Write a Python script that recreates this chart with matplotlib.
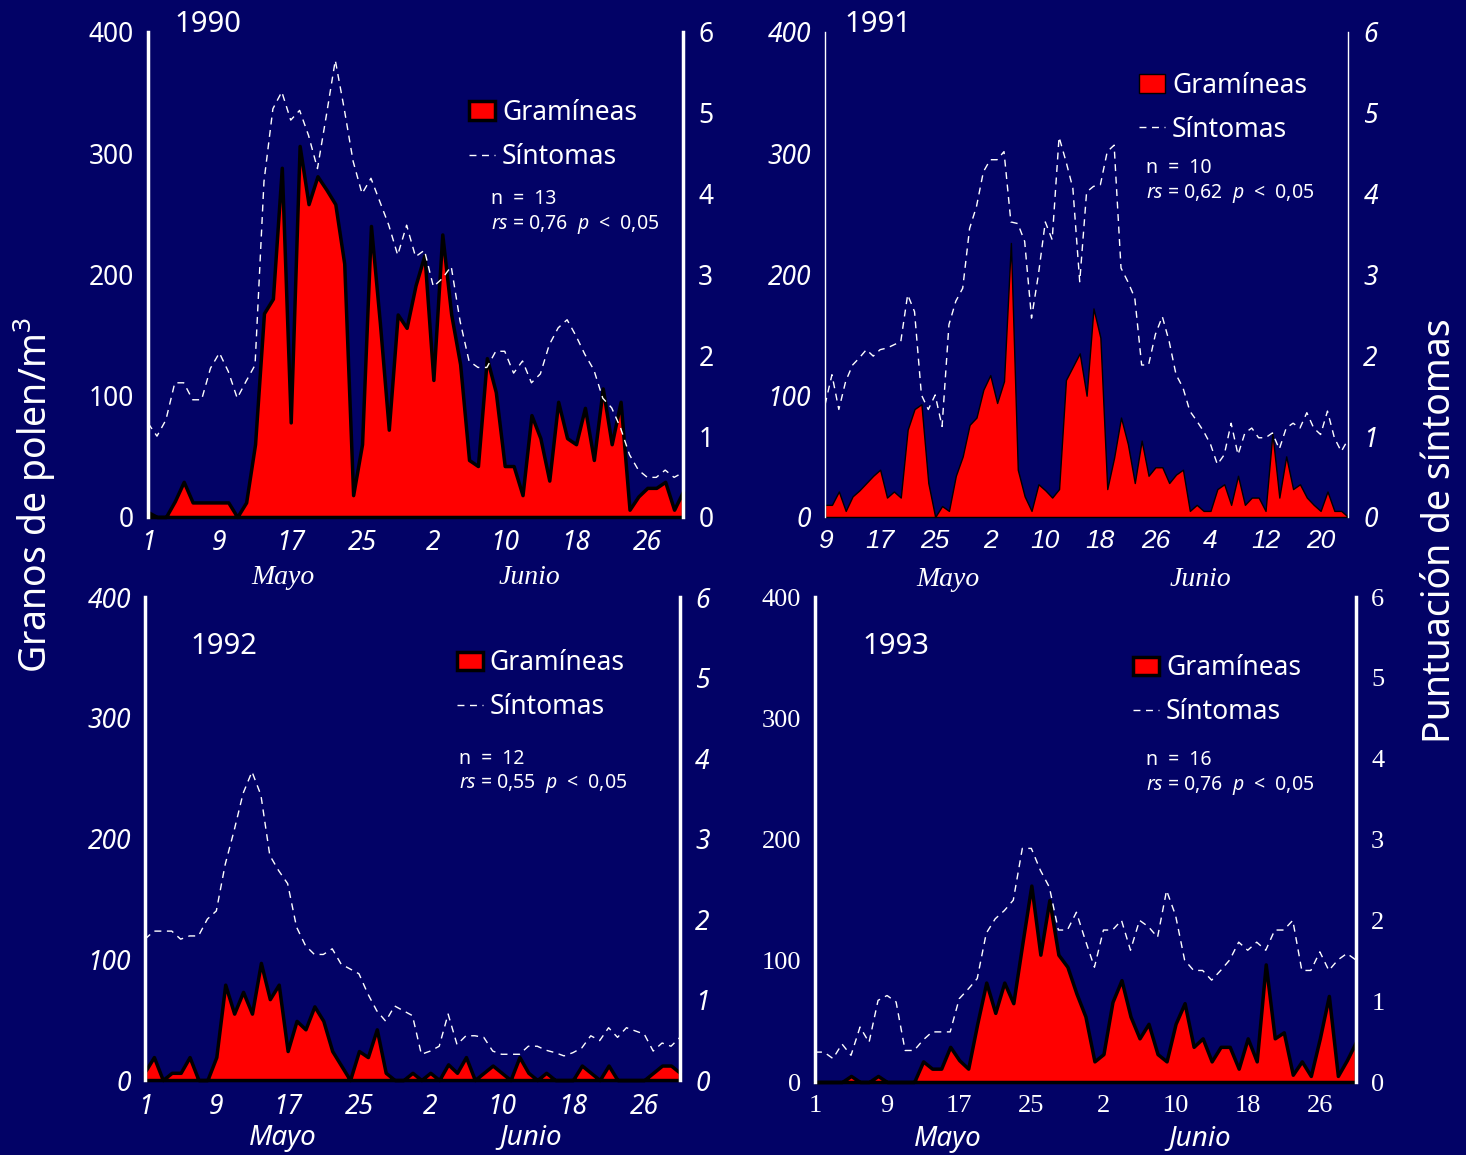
import matplotlib
matplotlib.use("Agg")
import matplotlib.pyplot as plt
import numpy as np

# --- data (granos de polen/m3 and puntuacion de sintomas) ---

# 1990: 1 mayo - 30 junio
pollen_1990 = [4, 0, 0, 13, 29, 12, 12, 12, 12, 12, 0, 12, 60, 168, 180, 288, 78, 306, 258, 281,
               270, 258, 209, 18, 60, 240, 160, 72, 167, 156, 191, 216, 113, 233, 167, 126, 47, 42, 131, 103,
               42, 42, 18, 84, 65, 30, 95, 65, 60, 90, 47, 106, 60, 95, 6, 17, 24, 24, 29, 6, 21]
sympt_1990 = [1.16, 1.00, 1.20, 1.66, 1.66, 1.45, 1.45, 1.84, 2.03, 1.80, 1.47, 1.68, 1.88, 4.15, 5.05, 5.26,
              4.91, 5.03, 4.72, 4.31, 4.97, 5.65, 5.05, 4.40, 4.00, 4.19, 3.90, 3.61, 3.24, 3.61, 3.22, 3.30,
              2.85, 2.95, 3.10, 2.42, 1.93, 1.85, 1.85, 2.05, 2.05, 1.78, 1.93, 1.66, 1.77, 2.13, 2.34, 2.44,
              2.24, 2.01, 1.82, 1.47, 1.35, 1.10, 0.77, 0.58, 0.49, 0.49, 0.58, 0.49, 0.55]
xlabels_1990 = ['1', '9', '17', '25', '2', '10', '18', '26']

# 1991: 9 mayo - 24 julio
pollen_1991 = [10, 10, 21, 5, 17, 22, 28, 34, 39, 16, 21, 16, 72, 89, 93, 28, 0, 9, 5, 34,
               50, 76, 82, 105, 117, 94, 112, 226, 39, 17, 5, 27, 22, 16, 23, 113, 124, 135, 100, 172,
               148, 23, 49, 82, 60, 28, 63, 34, 41, 41, 28, 35, 39, 5, 10, 5, 5, 23, 27, 10,
               34, 10, 16, 16, 5, 69, 16, 50, 23, 27, 16, 10, 5, 21, 5, 5, 0]
sympt_1991 = [1.39, 1.76, 1.33, 1.68, 1.88, 1.97, 2.07, 1.99, 2.07, 2.09, 2.13, 2.17, 2.75, 2.54, 1.51, 1.33,
              1.51, 1.12, 2.38, 2.67, 2.83, 3.57, 3.84, 4.27, 4.42, 4.42, 4.52, 3.65, 3.63, 3.41, 2.46, 3.00,
              3.65, 3.43, 4.70, 4.40, 4.07, 2.91, 4.02, 4.09, 4.11, 4.52, 4.60, 3.08, 2.91, 2.71, 1.88, 1.88,
              2.26, 2.48, 2.17, 1.76, 1.60, 1.31, 1.19, 1.06, 0.90, 0.65, 0.77, 1.16, 0.77, 1.04, 1.10, 0.98,
              0.98, 1.04, 0.84, 1.10, 1.16, 1.10, 1.29, 1.10, 1.02, 1.31, 0.98, 0.81, 0.96]
xlabels_1991 = ['9', '17', '25', '2', '10', '18', '26', '4', '12', '20']

# 1992: 1 mayo - 30 junio
pollen_1992 = [7, 19, 0, 6, 6, 19, 0, 0, 19, 79, 55, 73, 55, 97, 67, 79, 24, 49, 42, 61,
               49, 24, 12, 0, 24, 19, 42, 6, 0, 0, 6, 0, 6, 0, 13, 6, 19, 0, 6, 12,
               6, 0, 19, 6, 0, 6, 0, 0, 0, 12, 6, 0, 12, 0, 0, 0, 0, 6, 12, 12, 6]
sympt_1992 = [1.75, 1.85, 1.85, 1.85, 1.75, 1.79, 1.79, 2.00, 2.10, 2.68, 3.10, 3.56, 3.83, 3.54, 2.79, 2.60,
              2.44, 1.90, 1.67, 1.56, 1.56, 1.63, 1.44, 1.38, 1.32, 1.07, 0.86, 0.73, 0.92, 0.86, 0.80, 0.32,
              0.36, 0.42, 0.82, 0.44, 0.55, 0.55, 0.53, 0.36, 0.32, 0.32, 0.32, 0.42, 0.42, 0.37, 0.34, 0.30,
              0.34, 0.40, 0.55, 0.49, 0.65, 0.53, 0.65, 0.61, 0.57, 0.36, 0.46, 0.42, 0.53]
xlabels_1992 = ['1', '9', '17', '25', '2', '10', '18', '26']

# 1993: 1 mayo - 30 junio
pollen_1993 = [0, 0, 0, 0, 5, 0, 0, 5, 0, 0, 0, 0, 17, 11, 11, 29, 18, 11, 48, 82,
               57, 82, 65, 114, 162, 105, 150, 105, 95, 73, 54, 17, 23, 66, 84, 54, 36, 48, 23, 17,
               48, 65, 29, 36, 17, 29, 29, 11, 36, 17, 97, 36, 41, 6, 17, 5, 36, 71, 5, 18, 33]
sympt_1993 = [0.37, 0.37, 0.29, 0.47, 0.33, 0.68, 0.49, 1.01, 1.07, 0.99, 0.39, 0.39, 0.52, 0.62, 0.62, 0.62,
              1.03, 1.15, 1.28, 1.84, 2.02, 2.12, 2.25, 2.89, 2.89, 2.62, 2.41, 1.88, 1.88, 2.10, 1.75, 1.42,
              1.88, 1.88, 2.00, 1.63, 2.00, 1.92, 1.79, 2.37, 2.06, 1.51, 1.38, 1.38, 1.26, 1.38, 1.51, 1.73,
              1.63, 1.73, 1.63, 1.88, 1.88, 2.00, 1.38, 1.38, 1.61, 1.38, 1.51, 1.59, 1.51]
xlabels_1993 = ['1', '9', '17', '25', '2', '10', '18', '26']

stats_n = ['13', '10', '12', '16']
stats_rs = ['0,76', '0,62', '0,55', '0,76']

BG = '#020266'
SANS = 'Noto Sans'
SERIF = 'Liberation Serif'

plt.rcParams['font.family'] = [SANS, 'DejaVu Sans']
plt.rcParams['mathtext.fontset'] = 'custom'
plt.rcParams['mathtext.it'] = SANS + ':italic'
plt.rcParams['mathtext.rm'] = SANS

fig = plt.figure(figsize=(14.66, 11.55), dpi=100, facecolor=BG)


def draw_panel(rect, pollen, sympt, xlabels, year, n, rs, edge_lw, spine_lw,
               yl_font, x_font, m_font, yr_font,
               year_pos, leg_pos, stat_pos, month_x, month_y):
    ax = fig.add_axes(rect)
    ax.set_facecolor(BG)
    x = np.arange(len(pollen))

    # gramineas (left scale)
    fill = ax.fill_between(x, pollen, 0, facecolor='#ff0000', edgecolor='black',
                           linewidth=edge_lw, clip_on=False, zorder=2)
    ax.set_xlim(0, len(pollen) - 1)
    ax.set_ylim(0, 400)
    ax.set_yticks([0, 100, 200, 300, 400])
    ax.set_yticklabels(['0', '100', '200', '300', '400'], color='white', fontsize=19, **yl_font)
    ax.set_xticks(np.arange(0, len(pollen), 8))
    ax.set_xticklabels(xlabels, color='white', fontsize=19, **x_font)
    ax.tick_params(axis='both', length=0)
    ax.tick_params(axis='y', pad=10)
    ax.tick_params(axis='x', pad=9)

    # sintomas (right scale)
    ax2 = ax.twinx()
    line, = ax2.plot(x, sympt, color='white', linewidth=1, dashes=(5, 4), zorder=3)
    ax2.set_ylim(0, 6)
    ax2.set_yticks(range(7))
    ax2.set_yticklabels([str(v) for v in range(7)], color='white', fontsize=19, **yr_font)
    ax2.tick_params(axis='y', length=0, pad=11)

    for a in (ax, ax2):
        for s in a.spines.values():
            s.set_visible(False)
    ax.spines['left'].set_visible(True)
    ax.spines['left'].set_color('white')
    ax.spines['left'].set_linewidth(spine_lw)
    ax2.spines['right'].set_visible(True)
    ax2.spines['right'].set_color('white')
    ax2.spines['right'].set_linewidth(spine_lw)

    # month names under the day labels
    tr = ax.get_xaxis_transform()
    ax.text(month_x[0], month_y, 'Mayo', transform=tr, ha='center', va='center',
            color='white', fontsize=20, **m_font)
    ax.text(month_x[1], month_y, 'Junio', transform=tr, ha='center', va='center',
            color='white', fontsize=20, **m_font)

    ax2.text(year_pos[0], year_pos[1], year, transform=ax.transAxes, ha='center', va='center',
             color='white', fontsize=21)

    ax2.legend([fill, line], ['Gramíneas', 'Síntomas'], loc='upper left',
               bbox_to_anchor=leg_pos, frameon=False, fontsize=19, labelcolor='white',
               handlelength=1.0, handletextpad=0.25, labelspacing=0.6,
               borderpad=0, borderaxespad=0)

    ax2.text(stat_pos[0], stat_pos[1], 'n  =  ' + n, transform=ax.transAxes,
             ha='left', va='center', color='white', fontsize=14)
    ax2.text(stat_pos[0], stat_pos[1] - 0.052,
             r'$\mathit{rs}$ = ' + rs + r'  $\mathit{p}$  <  0,05',
             transform=ax.transAxes, ha='left', va='center', color='white', fontsize=14)
    return ax


upright = {'family': SANS}
italic = {'family': SANS, 'style': 'italic'}
arial_it = {'family': 'Liberation Sans', 'style': 'italic'}
serif_it = {'family': SERIF, 'style': 'italic'}
serif = {'family': SERIF}

draw_panel([0.1010, 0.5524, 0.3649, 0.4199], pollen_1990, sympt_1990, xlabels_1990, '1990',
           stats_n[0], stats_rs[0], 2.5, 2.5, upright, italic, serif_it, upright,
           (0.112, 1.016), (0.600, 0.862), (0.641, 0.656), (15.1, 42.8), -0.124)
draw_panel([0.5628, 0.5524, 0.3568, 0.4199], pollen_1991, sympt_1991, xlabels_1991, '1991',
           stats_n[1], stats_rs[1], 1.0, 1.0, italic, arial_it, serif_it, italic,
           (0.101, 1.016), (0.600, 0.918), (0.614, 0.72), (17.9, 54.5), -0.128)
draw_panel([0.0989, 0.0649, 0.3649, 0.4182], pollen_1992, sympt_1992, xlabels_1992, '1992',
           stats_n[2], stats_rs[2], 2.5, 2.5, italic, italic, italic, italic,
           (0.148, 0.898), (0.583, 0.892), (0.587, 0.665), (15.5, 43.2), -0.12)
draw_panel([0.5559, 0.0632, 0.3690, 0.4199], pollen_1993, sympt_1993, xlabels_1993, '1993',
           stats_n[3], stats_rs[3], 2.5, 2.5, serif, serif, italic, serif,
           (0.15, 0.899), (0.588, 0.882), (0.612, 0.664), (14.7, 42.7), -0.118)

fig.text(0.024, 0.571, 'Granos de polen/m$^3$', rotation=90, ha='center', va='center',
         color='white', fontsize=27)
fig.text(0.982, 0.541, 'Puntuación de síntomas', rotation=90, ha='center', va='center',
         color='white', fontsize=27)

fig.savefig('out.png', dpi=100, facecolor=BG)
